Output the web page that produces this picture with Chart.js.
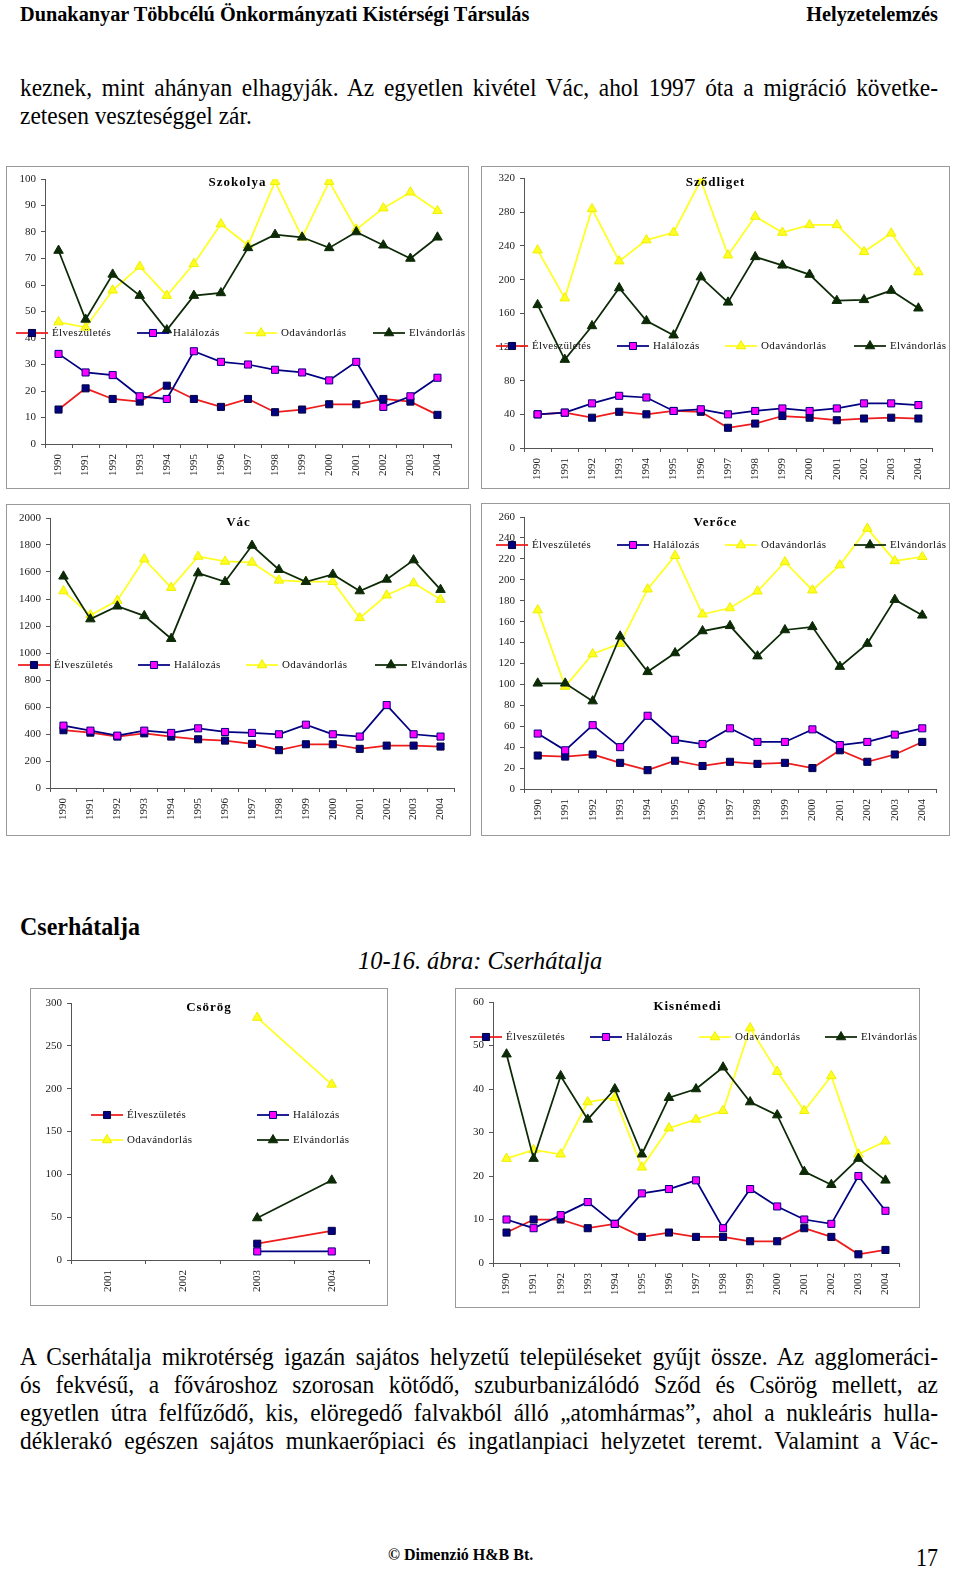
<!DOCTYPE html>
<html>
<head>
<meta charset="utf-8">
<title>Cserhátalja – népmozgalmi ábrák</title>
<script src="https://cdn.jsdelivr.net/npm/chart.js@4.4.1/dist/chart.umd.min.js"></script>
<style>
  body { margin: 0; width: 960px; height: 1573px; position: relative; overflow: hidden; background: #fff;
         font-family: "Liberation Serif", "Times New Roman", serif; color: #000; }
  .t { position: absolute; line-height: 1; white-space: nowrap; transform-origin: 0 0; }
  .j { position: absolute; left: 20px; width: 918px; font-size: 23.4px; line-height: 1;
       text-align: justify; text-align-last: justify; transform: scaleY(1.08); transform-origin: 0 0; }
  .box { position: absolute; border: 1px solid #9a9a9a; box-sizing: border-box; }
  .box > div { position: absolute; left: 0; top: 0; right: 0; bottom: 0; }
</style>
</head>
<body>
  <div class="t" style="left:20px; top:4px; font-size:20.3px; font-weight:bold;">Dunakanyar Többcélú Önkormányzati Kistérségi Társulás</div>
  <div class="t" style="right:22px; top:4px; font-size:20.3px; font-weight:bold;">Helyzetelemzés</div>

  <div class="j" style="top:75px;">keznek, mint ahányan elhagyják. Az egyetlen kivétel Vác, ahol 1997 óta a migráció követke-</div>
  <div class="j" style="top:103px; text-align-last:left;">zetesen veszteséggel zár.</div>

  <div class="box" style="left:6px; top:166px; width:463px; height:323px;"><div><canvas id="szokolya"></canvas></div></div>
  <div class="box" style="left:481px; top:166px; width:469px; height:323px;"><div><canvas id="szodliget"></canvas></div></div>
  <div class="box" style="left:6px; top:504px; width:465px; height:332px;"><div><canvas id="vac"></canvas></div></div>
  <div class="box" style="left:481px; top:503px; width:469px; height:333px;"><div><canvas id="veroce"></canvas></div></div>

  <div class="t" style="left:20px; top:914px; font-size:24px; font-weight:bold; transform:scaleY(1.05);">Cserhátalja</div>
  <div class="t" style="left:358px; top:948px; font-size:24.4px; font-style:italic; transform:scaleY(1.05);">10-16. ábra: Cserhátalja</div>

  <div class="box" style="left:30px; top:988px; width:358px; height:318px;"><div><canvas id="csorog"></canvas></div></div>
  <div class="box" style="left:455px; top:988px; width:465px; height:320px;"><div><canvas id="kisnemedi"></canvas></div></div>

  <div class="j" style="top:1344px;">A Cserhátalja mikrotérség igazán sajátos helyzetű településeket gyűjt össze. Az agglomeráci-</div>
  <div class="j" style="top:1372px;">ós fekvésű, a fővároshoz szorosan kötődő, szuburbanizálódó Sződ és Csörög mellett, az</div>
  <div class="j" style="top:1400px;">egyetlen útra felfűződő, kis, elöregedő falvakból álló „atomhármas”, ahol a nukleáris hulla-</div>
  <div class="j" style="top:1428px;">déklerakó egészen sajátos munkaerőpiaci és ingatlanpiaci helyzetet teremt. Valamint a Vác-</div>

  <div class="t" style="left:388px; top:1546px; font-size:16px; font-weight:bold; transform:scaleY(1.1);">© Dimenzió H&amp;B Bt.</div>
  <div class="t" style="right:22px; top:1545px; font-size:22px; transform:scaleY(1.16);">17</div>

<script>
const years = ['1990', '1991', '1992', '1993', '1994', '1995', '1996', '1997', '1998', '1999', '2000', '2001', '2002', '2003', '2004'];
const csorogYears = ['2001', '2002', '2003', '2004'];
const seriesNames = ['Élveszületés', 'Halálozás', 'Odavándorlás', 'Elvándorlás'];

const szokolyaBirths = [13, 21, 17, 16, 22, 17, 14, 17, 12, 13, 15, 15, 17, 16, 11];
const szokolyaDeaths = [34, 27, 26, 18, 17, 35, 31, 30, 28, 27, 24, 31, 14, 18, 25];
const szokolyaIn = [46, 44, 58, 67, 56, 68, 83, 75, 99, 78, 99, 81, 89, 95, 88];
const szokolyaOut = [73, 47, 64, 56, 43, 56, 57, 74, 79, 78, 74, 80, 75, 70, 78];

const szodligetBirths = [40, 42, 36, 43, 40, 44, 43, 24, 29, 38, 36, 33, 35, 36, 35];
const szodligetDeaths = [40, 42, 53, 62, 60, 44, 46, 40, 44, 47, 44, 47, 53, 53, 51];
const szodligetIn = [235, 178, 284, 222, 247, 256, 318, 229, 275, 256, 265, 265, 233, 255, 209];
const szodligetOut = [170, 105, 145, 190, 151, 134, 203, 173, 227, 217, 206, 175, 176, 187, 166];

const vacBirths = [428, 410, 381, 405, 381, 361, 351, 327, 280, 324, 324, 290, 314, 314, 307];
const vacDeaths = [462, 425, 388, 425, 408, 442, 415, 408, 398, 469, 398, 381, 614, 398, 381];
const vacIn = [1459, 1280, 1388, 1695, 1484, 1715, 1678, 1671, 1538, 1528, 1528, 1260, 1428, 1518, 1396];
const vacOut = [1568, 1251, 1346, 1275, 1106, 1592, 1528, 1796, 1617, 1528, 1582, 1459, 1545, 1688, 1469];

const veroceBirths = [32, 31, 33, 25, 18, 27, 22, 26, 24, 25, 20, 37, 26, 33, 45];
const veroceDeaths = [53, 37, 61, 40, 70, 47, 43, 58, 45, 45, 57, 42, 45, 52, 58];
const veroceIn = [171, 98, 129, 139, 191, 223, 167, 173, 189, 217, 190, 214, 249, 218, 222];
const veroceOut = [101, 101, 84, 146, 112, 130, 151, 156, 127, 152, 155, 117, 139, 181, 166];

const csorogBirths = [null, null, 19, 34];
const csorogDeaths = [null, null, 10, 10];
const csorogIn = [null, null, 283, 205];
const csorogOut = [null, null, 49, 93];

const kisnemediBirths = [7, 10, 10, 8, 9, 6, 7, 6, 6, 5, 5, 8, 6, 2, 3];
const kisnemediDeaths = [10, 8, 11, 14, 9, 16, 17, 19, 8, 17, 13, 10, 9, 20, 12];
const kisnemediIn = [24, 26, 25, 37, 38, 22, 31, 33, 35, 54, 44, 35, 43, 25, 28];
const kisnemediOut = [48, 24, 43, 33, 40, 25, 38, 40, 45, 37, 34, 21, 18, 24, 19];

// keep each justified line on one line
document.querySelectorAll('.j').forEach((el) => {
  let f = 23.4;
  while (el.offsetHeight > f * 1.5 && f > 15) {
    f -= 0.2;
    el.style.fontSize = f + 'px';
  }
});

// Excel-like look of the four series
const seriesStyle = [
  { borderColor: '#ee1c1c', pointStyle: 'rect', pointRadius: 5, pointBackgroundColor: '#000080', pointBorderColor: '#000040' },
  { borderColor: '#000080', pointStyle: 'rect', pointRadius: 5, pointBackgroundColor: '#ff00ff', pointBorderColor: '#000080' },
  { borderColor: '#ffff22', pointStyle: 'triangle', pointRadius: 5.5, pointBackgroundColor: '#ffff22', pointBorderColor: '#eeee00' },
  { borderColor: '#0c2a06', pointStyle: 'triangle', pointRadius: 5.5, pointBackgroundColor: '#0c2a06', pointBorderColor: '#0c2a06' },
];

const serif = '"Liberation Serif", "Times New Roman", serif';

// title and legend are drawn over the plot, like in the original Excel charts
const overlay = {
  id: 'overlay',
  afterDraw(chart, args, o) {
    const ctx = chart.ctx;
    ctx.save();
    ctx.fillStyle = '#000';
    ctx.font = 'bold 13px ' + serif;
    ctx.letterSpacing = '1px';
    ctx.textAlign = 'center';
    ctx.textBaseline = 'middle';
    ctx.fillText(o.title, chart.width / 2, o.titleY);

    ctx.font = '11px ' + serif;
    ctx.letterSpacing = '0.35px';
    ctx.textAlign = 'left';
    chart.data.datasets.forEach((ds, i) => {
      const [x, y] = o.legend[i];
      ctx.strokeStyle = ds.borderColor;
      ctx.lineWidth = ds.borderWidth;
      ctx.beginPath();
      ctx.moveTo(x, y);
      ctx.lineTo(x + 32, y);
      ctx.stroke();
      ctx.fillStyle = ds.pointBackgroundColor;
      ctx.strokeStyle = ds.pointBorderColor;
      ctx.lineWidth = 1;
      Chart.helpers.drawPoint(ctx, { pointStyle: ds.pointStyle, radius: ds.pointRadius, borderWidth: 1, rotation: 0 }, x + 16, y);
      ctx.fillStyle = '#111';
      ctx.fillText(ds.label, x + 36, y);
    });
    ctx.restore();
  }
};

function makeChart(id, cfg) {
  const tickFont = { family: serif, size: 11 };
  return new Chart(document.getElementById(id), {
    type: 'line',
    data: {
      labels: cfg.labels,
      datasets: seriesNames.map((name, i) => ({
        label: name,
        data: cfg.values[i],
        borderWidth: 1.75,
        pointBorderWidth: 1,
        spanGaps: false,
        order: 3 - i,
        ...seriesStyle[i],
      })),
    },
    options: {
      responsive: true,
      maintainAspectRatio: false,
      animation: false,
      layout: { padding: { left: 0, top: cfg.area[1], right: cfg.area[2], bottom: 0 } },
      plugins: {
        legend: { display: false },
        tooltip: { enabled: false },
        overlay: { title: cfg.title, titleY: cfg.titleY, legend: cfg.legend },
      },
      scales: {
        x: {
          offset: true,
          grid: { offset: true, drawOnChartArea: false, tickLength: 4, color: '#555' },
          border: { color: '#555' },
          ticks: { minRotation: 90, maxRotation: 90, autoSkip: false, padding: 6, font: tickFont, color: '#222' },
          afterFit: (s) => { s.height = cfg.area[3]; },
        },
        y: {
          min: 0,
          max: cfg.max,
          grid: { drawOnChartArea: false, tickLength: 4, color: '#555' },
          border: { color: '#555' },
          ticks: { stepSize: cfg.step, padding: 5, font: tickFont, color: '#222', callback: (v) => String(v) },
          afterFit: (s) => { s.width = cfg.area[0]; },
        },
      },
    },
    plugins: [overlay],
  });
}

// area = [left axis width, top, right, bottom axis height]
makeChart('szokolya', {
  title: 'Szokolya', titleY: 16, labels: years, max: 100, step: 10, area: [38, 12, 17, 44],
  values: [szokolyaBirths, szokolyaDeaths, szokolyaIn, szokolyaOut],
  legend: [[9, 166], [130, 166], [238, 166], [366, 166]],
});
makeChart('szodliget', {
  title: 'Sződliget', titleY: 16, labels: years, max: 320, step: 40, area: [42, 11, 17, 40],
  values: [szodligetBirths, szodligetDeaths, szodligetIn, szodligetOut],
  legend: [[14, 179], [135, 179], [243, 179], [372, 179]],
});
makeChart('vac', {
  title: 'Vác', titleY: 18, labels: years, max: 2000, step: 200, area: [43, 13, 16, 47],
  values: [vacBirths, vacDeaths, vacIn, vacOut],
  legend: [[11, 160], [131, 160], [239, 160], [368, 160]],
});
makeChart('veroce', {
  title: 'Verőce', titleY: 19, labels: years, max: 260, step: 20, area: [42, 13, 13, 46],
  values: [veroceBirths, veroceDeaths, veroceIn, veroceOut],
  legend: [[14, 41], [135, 41], [243, 41], [372, 41]],
});
makeChart('csorog', {
  title: 'Csörög', titleY: 19, labels: csorogYears, max: 300, step: 50, area: [40, 14, 18, 45],
  values: [csorogBirths, csorogDeaths, csorogIn, csorogOut],
  legend: [[60, 126], [226, 126], [60, 151], [226, 151]],
});
makeChart('kisnemedi', {
  title: 'Kisnémedi', titleY: 18, labels: years, max: 60, step: 10, area: [37, 13, 20, 44],
  values: [kisnemediBirths, kisnemediDeaths, kisnemediIn, kisnemediOut],
  legend: [[14, 48], [134, 48], [243, 48], [369, 48]],
});
</script>
</body>
</html>
